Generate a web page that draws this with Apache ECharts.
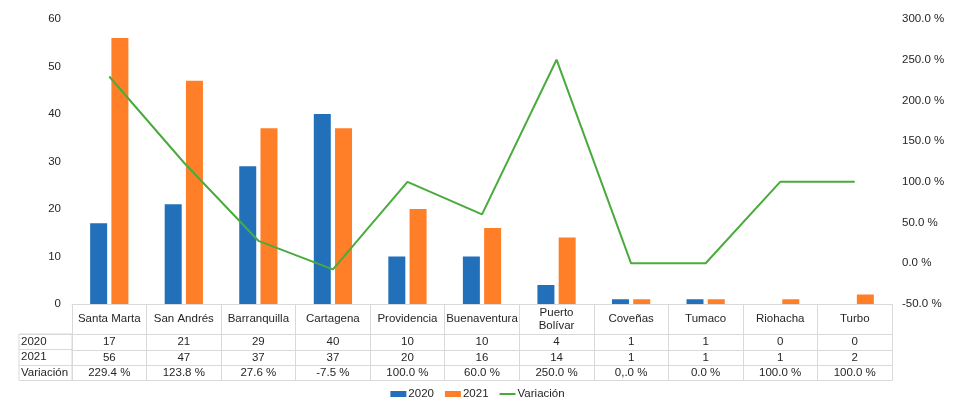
<!DOCTYPE html>
<html>
<head>
    <meta charset="UTF-8">
    <title>Puertos 2020 - 2021</title>
    <script src="https://cdn.jsdelivr.net/npm/echarts@6/dist/echarts.min.js"></script>
    <style>
        body { margin: 0; background: #fff; }
    </style>
</head>
<body>
    <div id="chart" style="width:955px; height:402px;"></div>
    <script>
        // data
        var ports = ['Santa Marta', 'San Andrés', 'Barranquilla', 'Cartagena', 'Providencia', 'Buenaventura',
            'Puerto\nBolívar', 'Coveñas', 'Tumaco', 'Riohacha', 'Turbo'];
        var v2020 = [17, 21, 29, 40, 10, 10, 4, 1, 1, 0, 0];
        var v2021 = [56, 47, 37, 37, 20, 16, 14, 1, 1, 1, 2];
        var variation = [229.4, 123.8, 27.6, -7.5, 100, 60, 250, 0, 0, 100, 100];
        var variationText = ['229.4 %', '123.8 %', '27.6 %', '-7.5 %', '100.0 %', '60.0 %', '250.0 %',
            '0,.0 %', '0.0 %', '100.0 %', '100.0 %'];
        var rowNames = ['2020', '2021', 'Variación'];

        var font = 'Liberation Sans, Arial, sans-serif';
        var textColor = '#262626';
        var tableLine = '#d9d9d9';
        var blue = '#2270b9';
        var orange = '#fe7f27';
        var green = '#4aab3d';

        var chart = echarts.init(document.getElementById('chart'), null, {renderer: 'canvas'});

        function rowAxis(data, offset, showLabel) {
            return {
                type: 'category',
                gridIndex: 0,
                position: 'bottom',
                offset: offset,
                data: data,
                axisLine: {show: true, onZero: false, lineStyle: {color: tableLine, width: 1}},
                axisTick: {show: false},
                axisLabel: {
                    show: showLabel,
                    interval: 0,
                    margin: 8,
                    verticalAlign: 'middle',
                    color: textColor,
                    fontFamily: font,
                    fontSize: 11.5
                },
                splitLine: {show: false}
            };
        }

        var option = {
            animation: false,
            textStyle: {fontFamily: font},
            grid: [
                {left: 72, right: 63, top: 19, bottom: 98},
                {left: 19, width: 53, top: 334, height: 46.5, show: true, borderColor: tableLine, borderWidth: 1}
            ],
            legend: {
                top: 383,
                left: 'center',
                itemWidth: 16,
                itemHeight: 6,
                itemGap: 11,
                textStyle: {color: textColor, fontFamily: font, fontSize: 11.5, padding: [0, 0, 0, -3]},
                data: [
                    {name: '2020', icon: 'rect'},
                    {name: '2021', icon: 'rect'},
                    {name: 'Variación', icon: 'path://M0,0 L16,0 L16,2 L0,2 Z'}
                ]
            },
            xAxis: [
                {
                    type: 'category',
                    gridIndex: 0,
                    position: 'bottom',
                    data: ports,
                    axisLine: {show: true, onZero: false, lineStyle: {color: tableLine, width: 1}},
                    axisTick: {show: true, length: 76.5, lineStyle: {color: tableLine, width: 1}},
                    axisLabel: {
                        interval: 0,
                        margin: 15,
                        verticalAlign: 'middle',
                        lineHeight: 13,
                        color: textColor,
                        fontFamily: font,
                        fontSize: 11.5
                    }
                },
                rowAxis(v2020.map(String), 30, true),
                rowAxis(v2021.map(String), 46, true),
                rowAxis(variationText, 61, true),
                rowAxis(ports, 76.5, false),
                {type: 'category', gridIndex: 1, show: false, data: ['']}
            ],
            yAxis: [
                {
                    type: 'value',
                    gridIndex: 0,
                    min: 0,
                    max: 60,
                    interval: 10,
                    axisLine: {show: false},
                    axisTick: {show: false},
                    splitLine: {show: false},
                    axisLabel: {color: textColor, fontFamily: font, fontSize: 11.5, margin: 11}
                },
                {
                    type: 'value',
                    gridIndex: 0,
                    position: 'right',
                    min: -50,
                    max: 300,
                    interval: 50,
                    axisLine: {show: false},
                    axisTick: {show: false},
                    splitLine: {show: false},
                    axisLabel: {
                        color: textColor, fontFamily: font, fontSize: 11.5, margin: 10,
                        formatter: function (v) { return v.toFixed(1) + ' %'; }
                    }
                },
                {
                    type: 'category',
                    gridIndex: 1,
                    inverse: true,
                    data: rowNames,
                    axisLine: {show: false},
                    axisTick: {show: false},
                    splitLine: {show: true, lineStyle: {color: tableLine, width: 1}},
                    axisLabel: {
                        inside: true,
                        margin: 2,
                        interval: 0,
                        color: textColor,
                        fontFamily: font,
                        fontSize: 11.5
                    }
                }
            ],
            series: [
                {
                    name: '2020',
                    type: 'bar',
                    xAxisIndex: 0,
                    yAxisIndex: 0,
                    data: v2020,
                    barWidth: 17,
                    barGap: '25%',
                    itemStyle: {color: blue}
                },
                {
                    name: '2021',
                    type: 'bar',
                    xAxisIndex: 0,
                    yAxisIndex: 0,
                    data: v2021,
                    barWidth: 17,
                    barGap: '25%',
                    itemStyle: {color: orange}
                },
                {
                    name: 'Variación',
                    type: 'line',
                    xAxisIndex: 0,
                    yAxisIndex: 1,
                    data: variation,
                    symbol: 'none',
                    lineStyle: {color: green, width: 2},
                    itemStyle: {color: green}
                }
            ]
        };

        chart.setOption(option);
    </script>
</body>
</html>
